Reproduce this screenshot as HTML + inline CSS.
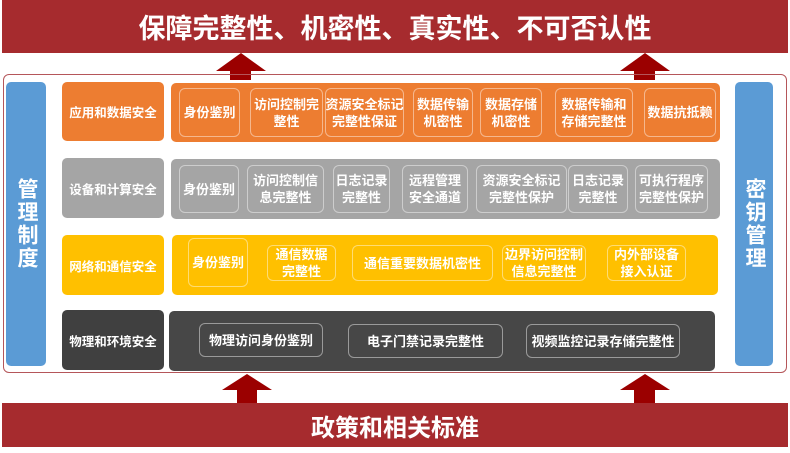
<!DOCTYPE html>
<html><head><meta charset="utf-8"><style>
*{margin:0;padding:0;box-sizing:border-box}
body{width:790px;height:453px;background:#fff;position:relative;overflow:hidden;font-family:"Liberation Sans","Noto Sans CJK SC",sans-serif;font-weight:bold;color:#fff}
.a{position:absolute}
.banner{background:#a62b2e;display:flex;align-items:center;justify-content:center}
.c{display:flex;align-items:center;justify-content:center;text-align:center}
.r{border-radius:5px}
.s{position:absolute;border:1px solid rgba(255,255,255,.45);border-radius:6px;display:flex;align-items:center;justify-content:center;text-align:center;font-size:13px;line-height:17px;white-space:nowrap}
.lbl{font-size:12.5px}
.vt{font-size:21px;line-height:28px;writing-mode:vertical-rl;letter-spacing:2px}
</style></head><body>
<div class="a banner" style="left:2px;top:0;width:786px;height:53px;font-size:27px">保障完整性、机密性、真实性、不可否认性</div>
<svg class="a" style="left:0;top:0" width="790" height="453">
<g fill="#9b0000">
<polygon points="216,71 241,53 266,71 251,71 251,80 230,80 230,71"/>
<polygon points="620,71 645,53 670,71 655,71 655,80 634,80 634,71"/>
<polygon points="222,390 247,374 272,390 257,390 257,404 237,404 237,390"/>
<polygon points="620,390 645,374 670,390 655,390 655,404 634,404 634,390"/>
</g>
</svg>
<div class="a" style="left:3px;top:74px;width:784px;height:299px;border:1px solid #b5565a;border-radius:6px"></div>
<div class="a c r vt" style="left:6px;top:82px;width:40px;height:284px;background:#5b9bd5">管理制度</div>
<div class="a c r vt" style="left:735px;top:82px;width:38px;height:284px;background:#5b9bd5">密钥管理</div>

<div class="a c r lbl" style="left:62px;top:82px;width:102px;height:59px;background:#ed7d31">应用和数据安全</div>
<div class="a r" style="left:171px;top:83px;width:549px;height:59px;background:#ed7d31"></div>
<div class="s" style="left:179px;top:88px;width:61px;height:49px">身份鉴别</div>
<div class="s" style="left:250px;top:88px;width:73px;height:49px">访问控制完<br>整性</div>
<div class="s" style="left:325px;top:88px;width:79px;height:49px">资源安全标记<br>完整性保证</div>
<div class="s" style="left:413px;top:88px;width:60px;height:49px">数据传输<br>机密性</div>
<div class="s" style="left:480px;top:88px;width:62px;height:49px">数据存储<br>机密性</div>
<div class="s" style="left:555px;top:88px;width:78px;height:49px">数据传输和<br>存储完整性</div>
<div class="s" style="left:644px;top:88px;width:72px;height:49px">数据抗抵赖</div>

<div class="a c r lbl" style="left:62px;top:158px;width:102px;height:60px;background:#a5a5a5">设备和计算安全</div>
<div class="a r" style="left:171px;top:159px;width:549px;height:60px;background:#a5a5a5"></div>
<div class="s" style="left:179px;top:165px;width:60px;height:48px">身份鉴别</div>
<div class="s" style="left:247px;top:165px;width:77px;height:48px">访问控制信<br>息完整性</div>
<div class="s" style="left:333px;top:165px;width:57px;height:48px">日志记录<br>完整性</div>
<div class="s" style="left:402px;top:165px;width:66px;height:48px">远程管理<br>安全通道</div>
<div class="s" style="left:476px;top:165px;width:91px;height:48px">资源安全标记<br>完整性保护</div>
<div class="s" style="left:568px;top:165px;width:60px;height:48px">日志记录<br>完整性</div>
<div class="s" style="left:635px;top:165px;width:73px;height:48px">可执行程序<br>完整性保护</div>

<div class="a c r lbl" style="left:62px;top:235px;width:102px;height:60px;background:#ffc000">网络和通信安全</div>
<div class="a r" style="left:172px;top:235px;width:546px;height:60px;background:#ffc000"></div>
<div class="s" style="left:188px;top:238px;width:60px;height:49px">身份鉴别</div>
<div class="s" style="left:267px;top:245px;width:69px;height:36px">通信数据<br>完整性</div>
<div class="s" style="left:352px;top:245px;width:141px;height:36px">通信重要数据机密性</div>
<div class="s" style="left:502px;top:245px;width:84px;height:36px">边界访问控制<br>信息完整性</div>
<div class="s" style="left:607px;top:245px;width:79px;height:36px">内外部设备<br>接入认证</div>

<div class="a c r lbl" style="left:62px;top:310px;width:102px;height:60px;background:#404040">物理和环境安全</div>
<div class="a r" style="left:169px;top:311px;width:546px;height:60px;background:#474747"></div>
<div class="s" style="left:199px;top:323px;width:124px;height:34px">物理访问身份鉴别</div>
<div class="s" style="left:348px;top:324px;width:155px;height:34px">电子门禁记录完整性</div>
<div class="s" style="left:526px;top:324px;width:154px;height:34px">视频监控记录存储完整性</div>

<div class="a banner" style="left:2px;top:403px;width:786px;height:44px;font-size:24px">政策和相关标准</div>
</body></html>
